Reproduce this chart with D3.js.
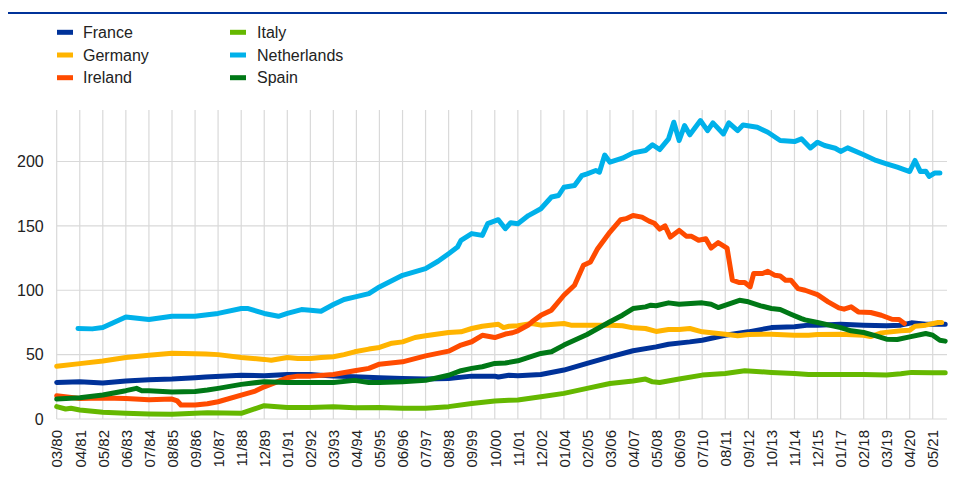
<!DOCTYPE html>
<html>
<head>
<meta charset="utf-8">
<script src="https://cdn.jsdelivr.net/npm/d3@7"></script>
<style>
  body { margin: 0; background: #fff; }
  text { font-family: "Liberation Sans", Arial, sans-serif; fill: #222; }
</style>
</head>
<body>
<div id="chart"></div>
<script>
// Series names and line colours (legend order)
let countries = ["France", "Germany", "Ireland", "Italy", "Netherlands", "Spain"]
let colors = ["#003299", "#FFB400", "#FF4B00", "#65B800", "#00B1EA", "#007816"]

// Tick labels on the x axis (month/year, every 13 months)
let tickLabels = ["03/80","04/81","05/82","06/83","07/84","08/85","09/86","10/87","11/88","12/89",
  "01/91","02/92","03/93","04/94","05/95","06/96","07/97","08/98","09/99","10/00",
  "11/01","12/02","01/04","02/05","03/06","04/07","05/08","06/09","07/10","08/11",
  "09/12","10/13","11/14","12/15","01/17","02/18","03/19","04/20","05/21"]
let yTicks = [0, 50, 100, 150, 200]

// Values: [month, value]
let france = [["1980-03",28.4],["1981-04",29],["1982-05",27.9],["1983-06",29.5],["1984-07",30.5],
  ["1985-08",31],["1986-09",32],["1987-03",32.6],["1988-11",34],["1989-12",33.6],["1991-01",34.6],
  ["1992-02",34.6],["1993-03",33.3],["1994-03",32.8],["1995-05",32],["1996-06",31.5],["1997-07",31],
  ["1998-08",31.5],["1999-09",33.3],["2000-10",33.3],["2000-12",32.6],["2001-06",34],["2001-11",33.6],
  ["2002-12",34.6],["2004-01",38],["2005-02",43.2],["2006-03",48.3],["2007-04",53],["2008-05",56],
  ["2008-12",58.1],["2009-12",59.9],["2010-07",61.2],["2011-08",65.1],["2012-09",67.7],["2013-10",71],
  ["2014-11",71.6],["2015-07",72.9],["2015-12",72.9],["2017-01",73.6],["2018-02",72.9],["2019-03",72.4],
  ["2019-11",72.9],["2020-05",74.7],["2021-01",73.6],["2021-12",73.6]]

let germany = [["1980-03",41],["1981-04",43],["1982-05",45],["1983-06",47.8],["1984-07",49.6],
  ["1985-08",51],["1986-09",50.6],["1987-03",50.5],["1987-10",50],["1988-11",47.8],["1989-12",46.3],
  ["1990-04",45.7],["1991-01",47.8],["1991-07",47],["1992-02",47],["1992-08",47.8],["1993-03",48.3],
  ["1993-09",50],["1994-03",52.2],["1994-11",54.3],["1995-05",55.6],["1995-12",58.9],["1996-06",59.9],
  ["1997-01",63.3],["1997-07",64.6],["1998-08",67.2],["1999-03",67.7],["1999-09",70.3],["2000-03",72],
  ["2000-12",73.6],["2001-03",71],["2001-06",72],["2001-11",72.4],["2002-07",74.2],["2002-12",72.9],
  ["2004-01",74.2],["2004-05",72.9],["2005-02",72.9],["2006-03",72.9],["2006-10",72.4],["2007-04",70.8],
  ["2007-11",70.3],["2008-05",68],["2008-12",69.5],["2009-06",69.5],["2009-12",70.3],["2010-07",67.7],
  ["2011-08",65.9],["2012-03",64.6],["2012-09",65.6],["2013-10",65.9],["2014-11",65.1],["2015-07",65.1],
  ["2015-12",65.6],["2017-01",65.9],["2018-02",65.1],["2018-06",64],["2018-12",66.9],["2019-11",68.5],
  ["2020-04",69],["2020-07",72.1],["2021-01",72.9],["2021-08",74.9],["2021-10",74.9]]

let ireland = [["1980-03",18],["1981-04",16],["1982-05",16.3],["1983-06",16],["1984-07",15],
  ["1985-08",15.5],["1985-11",14],["1986-01",10.9],["1986-09",10.9],["1987-04",11.8],["1987-10",13.4],
  ["1988-11",18.6],["1989-07",21.7],["1989-12",25],["1991-01",32],["1991-07",33.3],["1992-02",33.3],
  ["1993-03",34.6],["1994-03",37.5],["1994-11",39.3],["1995-05",42.6],["1996-06",44.4],["1997-07",49],
  ["1998-08",52.7],["1999-03",57.4],["1999-09",60],["2000-03",65],["2000-10",63.3],["2001-04",66],
  ["2001-08",67],["2001-11",68.5],["2002-05",73],["2002-07",75.5],["2002-12",80.5],["2003-06",84.5],
  ["2004-01",96.1],["2004-07",103.9],["2004-12",119.4],["2005-04",122],["2005-08",132.3],["2006-03",145.2],
  ["2006-09",154.8],["2006-12",155.6],["2007-04",158.1],["2007-09",156.8],["2008-01",153.7],["2008-04",152],
  ["2008-07",147.5],["2008-10",150],["2009-01",141.3],["2009-06",146.5],["2009-10",142],["2010-01",141.9],
  ["2010-05",138.8],["2010-09",140],["2010-12",132.8],["2011-04",137],["2011-09",132.8],["2011-12",107.8],
  ["2012-04",106],["2012-07",106],["2012-10",102.6],["2012-12",113],["2013-05",113],["2013-08",114.7],
  ["2013-12",111.6],["2014-03",111.1],["2014-06",107.8],["2014-09",107.8],["2015-01",101.3],["2015-05",100],
  ["2015-12",96.6],["2016-06",91],["2016-12",86.3],["2017-03",85.3],["2017-07",87.1],["2017-11",83.2],
  ["2018-06",82.7],["2018-12",80.6],["2019-06",77.5],["2019-10",77.3],["2020-01",74.2]]

let italy = [["1980-03",9.6],["1980-08",7.8],["1980-11",8.3],["1981-04",7],["1982-05",5.2],
  ["1983-06",4.4],["1984-07",3.9],["1985-08",3.6],["1986-09",4.4],["1987-04",4.8],["1988-11",4.4],
  ["1989-12",10.3],["1991-01",9],["1992-02",9],["1993-03",9.6],["1994-03",8.8],["1995-05",9],
  ["1996-06",8.3],["1997-07",8.3],["1998-08",9.6],["1999-09",12.1],["2000-10",14],["2001-06",14.5],
  ["2001-11",14.7],["2002-12",17.3],["2004-01",19.9],["2005-02",23.8],["2006-03",27.6],["2007-04",29.5],
  ["2007-11",31],["2008-03",28.9],["2008-07",28.4],["2009-06",31],["2010-07",34.1],["2011-08",35.4],
  ["2012-07",37.5],["2013-10",36.2],["2014-11",35.4],["2015-07",34.6],["2017-01",34.6],["2018-02",34.6],
  ["2019-03",34.1],["2019-11",35.1],["2020-05",36.2],["2021-05",35.9],["2021-12",35.9]]

let netherlands = [["1981-03",70.3],["1981-11",70],["1982-05",71],["1983-06",79.3],["1984-07",77.3],
  ["1985-08",79.8],["1986-09",79.8],["1987-04",81],["1987-10",82],["1988-11",85.8],["1989-03",85.8],
  ["1989-12",82],["1990-08",79.8],["1991-01",82],["1991-09",85],["1992-02",84.5],["1992-08",83.7],
  ["1993-03",88.9],["1993-09",92.8],["1994-04",95],["1994-11",97.4],["1995-05",102.6],["1996-06",111.6],
  ["1997-07",116.8],["1998-02",122.5],["1998-08",128.4],["1999-01",133.6],["1999-03",138.8],["1999-09",144],
  ["2000-03",142.6],["2000-06",151.7],["2000-12",154.8],["2001-04",147.8],["2001-07",152.5],["2001-11",151.7],
  ["2002-05",158],["2002-12",163.3],["2003-06",172.4],["2003-10",173.6],["2004-01",180],["2004-07",181.4],
  ["2004-11",189],["2005-02",190.4],["2005-07",193],["2005-09",191.7],["2005-12",205],["2006-03",199.5],
  ["2006-10",202.6],["2007-04",206.7],["2007-11",208.5],["2008-03",213],["2008-07",209.3],["2008-12",217.6],
  ["2009-03",230.5],["2009-06",216.3],["2009-09",227.9],["2009-12",220.7],["2010-06",231.8],["2010-10",224],
  ["2011-01",230],["2011-07",221.4],["2011-10",230],["2012-03",224],["2012-06",228.4],["2013-02",226.6],
  ["2013-08",222.7],["2014-03",216.3],["2014-11",215.5],["2015-03",217.6],["2015-08",210.5],["2015-12",215],
  ["2016-04",212.4],["2016-10",210.3],["2017-01",207.8],["2017-05",210.6],["2018-02",205.2],["2018-09",200.8],
  ["2019-03",198.2],["2019-09",195.6],["2020-04",192.2],["2020-07",200.8],["2020-10",192.2],["2021-01",192.5],
  ["2021-03",188.4],["2021-06",191],["2021-09",191]]

let spain = [["1980-03",15.5],["1981-04",16.5],["1982-05",18.6],["1983-06",22],["1983-12",23.8],
  ["1984-03",22],["1984-07",22],["1985-08",21],["1986-09",21.4],["1987-04",22.5],["1987-10",23.8],
  ["1988-11",26.9],["1989-12",29],["1991-01",28.4],["1992-02",28.4],["1993-03",28.4],["1994-03",30],
  ["1994-11",28.4],["1995-05",28.4],["1996-06",29],["1997-07",30],["1998-08",34],["1999-03",37.5],
  ["1999-09",39.3],["2000-03",40.6],["2000-10",43.2],["2001-04",43.5],["2001-11",45.2],["2002-12",50.9],
  ["2003-06",52.2],["2004-01",57.4],["2005-02",65.6],["2006-03",75.5],["2006-10",80.6],["2007-04",85.8],
  ["2007-11",87.1],["2008-02",88.4],["2008-05",88],["2008-12",90.2],["2009-06",89.1],["2010-07",90.2],
  ["2010-12",89.1],["2011-04",86.6],["2011-09",88.9],["2012-04",92.2],["2012-09",91],["2013-04",87.9],
  ["2013-10",85.8],["2014-03",85],["2014-09",81.4],["2015-03",78],["2015-05",77],["2015-12",74.9],
  ["2017-01",71],["2017-07",68.5],["2018-02",67.2],["2018-09",64.6],["2019-03",62],["2019-09",61.8],
  ["2020-04",63.8],["2021-01",66.4],["2021-05",65.1],["2021-09",61.2],["2021-12",60.5]]

let series = [france, germany, ireland, italy, netherlands, spain]

/* SVG OBJECT */
let svgWidth = 955
let svgHeight = 481
let svg = d3.select("#chart").append("svg").attr("width", svgWidth).attr("height", svgHeight)

// plot area
let plot = { left: 56.7, right: 947, top: 110, bottom: 419 }

let parseMonth = d3.timeParse("%Y-%m")
let parseTick = d3.timeParse("%m/%y")

let x = d3.scaleTime()
  .domain([parseMonth("1980-03"), parseMonth("2022-01")])
  .range([plot.left, plot.right])
let y = d3.scaleLinear().domain([0, 240]).range([plot.bottom, plot.top])

// top rule
svg.append("rect").attr("x", 8).attr("y", 12).attr("width", 939).attr("height", 2).attr("fill", "#003299")

// legend, two columns of three
let legend = svg.append("g")
countries.forEach((name, i) => {
  let col = Math.floor(i / 3), row = i % 3
  let g = legend.append("g").attr("transform", `translate(${col ? 230 : 57}, ${32.3 + row * 22.7})`)
  g.append("rect").attr("x", 0).attr("y", -2.5).attr("width", 16).attr("height", 5).attr("fill", colors[i])
  g.append("text").attr("x", col ? 27 : 26).attr("dy", "0.36em").style("font-size", "16px").text(name)
})

// gridlines
let tickDates = tickLabels.map(parseTick)
svg.append("g").selectAll("line").data(tickDates).join("line")
  .attr("x1", d => x(d)).attr("x2", d => x(d))
  .attr("y1", plot.top).attr("y2", plot.bottom)
  .attr("stroke", "#d9d9d9").attr("stroke-width", 1.2)
svg.append("g").selectAll("line").data(yTicks).join("line")
  .attr("x1", plot.left).attr("x2", plot.right)
  .attr("y1", d => y(d)).attr("y2", d => y(d))
  .attr("stroke", "#d9d9d9").attr("stroke-width", 1.2)

// y axis labels
let yAxis = svg.append("g").attr("transform", `translate(${plot.left - 13},0)`)
  .call(d3.axisLeft(y).tickValues(yTicks).tickSize(0).tickPadding(0))
yAxis.select(".domain").remove()
yAxis.selectAll("text").style("font-size", "16px").attr("fill", "#222")

// x axis labels, rotated
let xAxis = svg.append("g").attr("transform", `translate(0,${plot.bottom})`)
  .call(d3.axisBottom(x).tickValues(tickDates).tickFormat(d3.timeFormat("%m/%y")).tickSize(0))
xAxis.select(".domain").remove()
xAxis.selectAll("text")
  .style("font-size", "15px").attr("fill", "#222")
  .attr("text-anchor", "end")
  .attr("transform", "translate(0,11) rotate(-90)")
  .attr("x", 0).attr("y", 0).attr("dy", "0.35em")

/* LINES */
let line = d3.line().x(d => x(parseMonth(d[0]))).y(d => y(d[1]))
svg.append("g").selectAll("path").data(series).join("path")
  .attr("d", line)
  .attr("fill", "none")
  .attr("stroke", (d, i) => colors[i])
  .attr("stroke-width", 5)
  .attr("stroke-linejoin", "round")
  .attr("stroke-linecap", "round")
</script>
</body>
</html>
